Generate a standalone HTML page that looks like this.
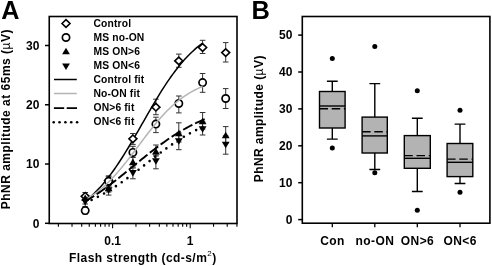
<!DOCTYPE html>
<html><head><meta charset="utf-8"><style>
html,body{margin:0;padding:0;background:#fff;width:492px;height:266px;overflow:hidden}
svg{filter:grayscale(1)}
</style></head><body>
<svg width="492" height="266" viewBox="0 0 492 266" style="display:block;font-family:'Liberation Sans', sans-serif;font-weight:bold">
<rect width="492" height="266" fill="#fff"/>
<text transform="translate(1.3,18.6) scale(1.05,1.06)" font-size="24">A</text>
<text transform="translate(251.5,18.6) scale(1.06,1.06)" font-size="24">B</text>
<rect x="49.25" y="16.5" width="187.75" height="207.0" fill="none" stroke="#000" stroke-width="1.6"/>
<line x1="45" x2="49.25" y1="223.30" y2="223.30" stroke="#000" stroke-width="1.5"/>
<text x="39.4" y="227.70" font-size="12" text-anchor="end">0</text>
<line x1="45" x2="49.25" y1="164.03" y2="164.03" stroke="#000" stroke-width="1.5"/>
<text x="39.4" y="168.43" font-size="12" text-anchor="end">10</text>
<line x1="45" x2="49.25" y1="104.76" y2="104.76" stroke="#000" stroke-width="1.5"/>
<text x="39.4" y="109.16" font-size="12" text-anchor="end">20</text>
<line x1="45" x2="49.25" y1="45.49" y2="45.49" stroke="#000" stroke-width="1.5"/>
<text x="39.4" y="49.89" font-size="12" text-anchor="end">30</text>
<line x1="58.36" x2="58.36" y1="223.5" y2="226.7" stroke="#000" stroke-width="1.1"/>
<line x1="72.02" x2="72.02" y1="223.5" y2="226.7" stroke="#000" stroke-width="1.1"/>
<line x1="81.72" x2="81.72" y1="223.5" y2="226.7" stroke="#000" stroke-width="1.1"/>
<line x1="89.24" x2="89.24" y1="223.5" y2="226.7" stroke="#000" stroke-width="1.1"/>
<line x1="95.38" x2="95.38" y1="223.5" y2="226.7" stroke="#000" stroke-width="1.1"/>
<line x1="100.58" x2="100.58" y1="223.5" y2="226.7" stroke="#000" stroke-width="1.1"/>
<line x1="105.08" x2="105.08" y1="223.5" y2="226.7" stroke="#000" stroke-width="1.1"/>
<line x1="109.05" x2="109.05" y1="223.5" y2="226.7" stroke="#000" stroke-width="1.1"/>
<line x1="112.60" x2="112.60" y1="223.5" y2="228.3" stroke="#000" stroke-width="1.1"/>
<line x1="135.96" x2="135.96" y1="223.5" y2="226.7" stroke="#000" stroke-width="1.1"/>
<line x1="149.62" x2="149.62" y1="223.5" y2="226.7" stroke="#000" stroke-width="1.1"/>
<line x1="159.32" x2="159.32" y1="223.5" y2="226.7" stroke="#000" stroke-width="1.1"/>
<line x1="166.84" x2="166.84" y1="223.5" y2="226.7" stroke="#000" stroke-width="1.1"/>
<line x1="172.98" x2="172.98" y1="223.5" y2="226.7" stroke="#000" stroke-width="1.1"/>
<line x1="178.18" x2="178.18" y1="223.5" y2="226.7" stroke="#000" stroke-width="1.1"/>
<line x1="182.68" x2="182.68" y1="223.5" y2="226.7" stroke="#000" stroke-width="1.1"/>
<line x1="186.65" x2="186.65" y1="223.5" y2="226.7" stroke="#000" stroke-width="1.1"/>
<line x1="190.20" x2="190.20" y1="223.5" y2="228.3" stroke="#000" stroke-width="1.1"/>
<line x1="213.56" x2="213.56" y1="223.5" y2="226.7" stroke="#000" stroke-width="1.1"/>
<line x1="227.22" x2="227.22" y1="223.5" y2="226.7" stroke="#000" stroke-width="1.1"/>
<line x1="236.92" x2="236.92" y1="223.5" y2="226.7" stroke="#000" stroke-width="1.1"/>
<text x="112.60" y="245" font-size="12" text-anchor="middle">0.1</text>
<text x="190.20" y="245" font-size="12" text-anchor="middle">1</text>
<text x="69.1" y="262.3" font-size="12" letter-spacing="0.43">Flash strength (cd-s/m<tspan font-size="8" font-weight="normal" dy="-6.5">2</tspan><tspan dy="6.5">)</tspan></text>
<text transform="translate(10.4,209.3) rotate(-90)" x="0" y="0" font-size="12" textLength="179.8" lengthAdjust="spacing">PhNR amplitude at 65ms (<tspan font-weight="normal">µ</tspan>V)</text>
<text transform="translate(93.5,27.20) scale(1,1)" font-size="10.3" letter-spacing="0.15">Control</text>
<text transform="translate(93.5,41.20) scale(1,1)" font-size="10.3" letter-spacing="0.15">MS no-ON</text>
<text transform="translate(93.5,55.20) scale(1,1)" font-size="10.3" letter-spacing="0.15">MS ON&gt;6</text>
<text transform="translate(93.5,69.20) scale(1,1)" font-size="10.3" letter-spacing="0.15">MS ON&lt;6</text>
<text transform="translate(93.5,83.20) scale(1,1)" font-size="10.3" letter-spacing="0.15">Control fit</text>
<text transform="translate(93.5,97.20) scale(1,1)" font-size="10.3" letter-spacing="0.15">No-ON fit</text>
<text transform="translate(93.5,111.20) scale(1,1)" font-size="10.3" letter-spacing="0.15">ON&gt;6 fit</text>
<text transform="translate(93.5,125.20) scale(1,1)" font-size="10.3" letter-spacing="0.15">ON&lt;6 fit</text>
<path d="M62.00,23.50 L66.00,19.70 L70.00,23.50 L66.00,27.30 Z" fill="#fff" stroke="#000" stroke-width="1.6"/>
<circle cx="66.00" cy="37.50" r="3.65" fill="#fff" stroke="#000" stroke-width="1.7"/>
<path d="M62.10,54.30 L69.90,54.30 L66.00,47.70 Z" fill="#000"/>
<path d="M62.10,63.50 L69.90,63.50 L66.00,70.10 Z" fill="#000"/>
<line x1="54.0" x2="76.8" y1="79.50" y2="79.50" stroke="#000" stroke-width="1.5"/>
<line x1="54.0" x2="76.8" y1="93.50" y2="93.50" stroke="#b4b4b4" stroke-width="1.5"/>
<line x1="53.9" x2="77" y1="108.1" y2="108.1" stroke="#000" stroke-width="1.9" stroke-dasharray="10.3,2.5"/>
<circle cx="53.70" cy="122.3" r="1.3" fill="#000"/>
<circle cx="59.55" cy="122.3" r="1.3" fill="#000"/>
<circle cx="65.40" cy="122.3" r="1.3" fill="#000"/>
<circle cx="71.25" cy="122.3" r="1.3" fill="#000"/>
<circle cx="77.10" cy="122.3" r="1.3" fill="#000"/>
<path d="M85.20,192.50 V200.00 M82.40,192.50 H88.00 M82.40,200.00 H88.00" fill="none" stroke="#333" stroke-width="1"/>
<path d="M108.60,176.00 V185.00 M105.80,176.00 H111.40 M105.80,185.00 H111.40" fill="none" stroke="#333" stroke-width="1"/>
<path d="M132.90,133.50 V144.40 M130.10,133.50 H135.70 M130.10,144.40 H135.70" fill="none" stroke="#333" stroke-width="1"/>
<path d="M155.90,99.20 V114.70 M153.10,99.20 H158.70 M153.10,114.70 H158.70" fill="none" stroke="#333" stroke-width="1"/>
<path d="M178.80,54.10 V67.30 M176.00,54.10 H181.60 M176.00,67.30 H181.60" fill="none" stroke="#333" stroke-width="1"/>
<path d="M202.60,40.30 V53.50 M199.80,40.30 H205.40 M199.80,53.50 H205.40" fill="none" stroke="#333" stroke-width="1"/>
<path d="M225.70,42.60 V62.00 M222.90,42.60 H228.50 M222.90,62.00 H228.50" fill="none" stroke="#333" stroke-width="1"/>
<path d="M85.20,207.00 V214.00 M82.40,207.00 H88.00 M82.40,214.00 H88.00" fill="none" stroke="#333" stroke-width="1"/>
<path d="M108.60,176.20 V186.00 M105.80,176.20 H111.40 M105.80,186.00 H111.40" fill="none" stroke="#333" stroke-width="1"/>
<path d="M132.90,146.30 V157.50 M130.10,146.30 H135.70 M130.10,157.50 H135.70" fill="none" stroke="#333" stroke-width="1"/>
<path d="M155.90,117.20 V132.60 M153.10,117.20 H158.70 M153.10,132.60 H158.70" fill="none" stroke="#333" stroke-width="1"/>
<path d="M178.80,96.00 V112.90 M176.00,96.00 H181.60 M176.00,112.90 H181.60" fill="none" stroke="#333" stroke-width="1"/>
<path d="M202.60,73.50 V92.30 M199.80,73.50 H205.40 M199.80,92.30 H205.40" fill="none" stroke="#333" stroke-width="1"/>
<path d="M225.70,88.60 V108.50 M222.90,88.60 H228.50 M222.90,108.50 H228.50" fill="none" stroke="#333" stroke-width="1"/>
<path d="M85.20,197.00 V204.00 M82.40,197.00 H88.00 M82.40,204.00 H88.00" fill="none" stroke="#333" stroke-width="1"/>
<path d="M108.60,184.00 V192.00 M105.80,184.00 H111.40 M105.80,192.00 H111.40" fill="none" stroke="#333" stroke-width="1"/>
<path d="M132.90,156.00 V167.00 M130.10,156.00 H135.70 M130.10,167.00 H135.70" fill="none" stroke="#333" stroke-width="1"/>
<path d="M155.90,145.00 V156.00 M153.10,145.00 H158.70 M153.10,156.00 H158.70" fill="none" stroke="#333" stroke-width="1"/>
<path d="M178.80,122.80 V142.00 M176.00,122.80 H181.60 M176.00,142.00 H181.60" fill="none" stroke="#333" stroke-width="1"/>
<path d="M202.60,112.50 V129.00 M199.80,112.50 H205.40 M199.80,129.00 H205.40" fill="none" stroke="#333" stroke-width="1"/>
<path d="M225.70,126.60 V143.00 M222.90,126.60 H228.50 M222.90,143.00 H228.50" fill="none" stroke="#333" stroke-width="1"/>
<path d="M85.20,199.00 V207.00 M82.40,199.00 H88.00 M82.40,207.00 H88.00" fill="none" stroke="#333" stroke-width="1"/>
<path d="M108.60,186.00 V195.10 M105.80,186.00 H111.40 M105.80,195.10 H111.40" fill="none" stroke="#333" stroke-width="1"/>
<path d="M132.90,168.00 V178.80 M130.10,168.00 H135.70 M130.10,178.80 H135.70" fill="none" stroke="#333" stroke-width="1"/>
<path d="M155.90,155.00 V168.80 M153.10,155.00 H158.70 M153.10,168.80 H158.70" fill="none" stroke="#333" stroke-width="1"/>
<path d="M178.80,133.00 V149.70 M176.00,133.00 H181.60 M176.00,149.70 H181.60" fill="none" stroke="#333" stroke-width="1"/>
<path d="M202.60,122.00 V135.00 M199.80,122.00 H205.40 M199.80,135.00 H205.40" fill="none" stroke="#333" stroke-width="1"/>
<path d="M225.70,136.00 V154.20 M222.90,136.00 H228.50 M222.90,154.20 H228.50" fill="none" stroke="#333" stroke-width="1"/>
<path d="M85.20,201.28 L87.16,199.70 L89.11,198.04 L91.07,196.31 L93.03,194.50 L94.98,192.60 L96.94,190.62 L98.90,188.55 L100.85,186.40 L102.81,184.17 L104.77,181.85 L106.72,179.44 L108.68,176.95 L110.64,174.37 L112.59,171.71 L114.55,168.97 L116.51,166.14 L118.46,163.25 L120.42,160.28 L122.38,157.24 L124.33,154.14 L126.29,150.97 L128.25,147.75 L130.20,144.49 L132.16,141.18 L134.12,137.83 L136.07,134.45 L138.03,131.05 L139.99,127.63 L141.94,124.20 L143.90,120.77 L145.86,117.34 L147.81,113.93 L149.77,110.54 L151.73,107.17 L153.68,103.84 L155.64,100.55 L157.60,97.30 L159.55,94.11 L161.51,90.97 L163.47,87.89 L165.42,84.88 L167.38,81.94 L169.34,79.08 L171.29,76.29 L173.25,73.59 L175.21,70.96 L177.16,68.42 L179.12,65.97 L181.08,63.60 L183.03,61.31 L184.99,59.11 L186.95,57.00 L188.90,54.97 L190.86,53.03 L192.82,51.17 L194.77,49.39 L196.73,47.69 L198.69,46.07 L200.64,44.52 L202.60,43.05" fill="none" stroke="#000" stroke-width="1.5"/>
<path d="M81.20,196.30 L85.20,192.50 L89.20,196.30 L85.20,200.10 Z" fill="#fff" stroke="#000" stroke-width="1.6"/>
<path d="M104.60,180.50 L108.60,176.70 L112.60,180.50 L108.60,184.30 Z" fill="#fff" stroke="#000" stroke-width="1.6"/>
<path d="M128.90,138.80 L132.90,135.00 L136.90,138.80 L132.90,142.60 Z" fill="#fff" stroke="#000" stroke-width="1.6"/>
<path d="M151.90,107.20 L155.90,103.40 L159.90,107.20 L155.90,111.00 Z" fill="#fff" stroke="#000" stroke-width="1.6"/>
<path d="M174.80,60.90 L178.80,57.10 L182.80,60.90 L178.80,64.70 Z" fill="#fff" stroke="#000" stroke-width="1.6"/>
<path d="M198.60,47.50 L202.60,43.70 L206.60,47.50 L202.60,51.30 Z" fill="#fff" stroke="#000" stroke-width="1.6"/>
<path d="M221.70,52.60 L225.70,48.80 L229.70,52.60 L225.70,56.40 Z" fill="#fff" stroke="#000" stroke-width="1.6"/>
<circle cx="85.20" cy="210.60" r="3.65" fill="#fff" stroke="#000" stroke-width="1.7"/>
<circle cx="108.60" cy="181.20" r="3.65" fill="#fff" stroke="#000" stroke-width="1.7"/>
<circle cx="132.90" cy="152.40" r="3.65" fill="#fff" stroke="#000" stroke-width="1.7"/>
<circle cx="155.90" cy="124.10" r="3.65" fill="#fff" stroke="#000" stroke-width="1.7"/>
<circle cx="178.80" cy="103.50" r="3.65" fill="#fff" stroke="#000" stroke-width="1.7"/>
<circle cx="202.60" cy="82.60" r="3.65" fill="#fff" stroke="#000" stroke-width="1.7"/>
<circle cx="225.70" cy="98.50" r="3.65" fill="#fff" stroke="#000" stroke-width="1.7"/>
<path d="M85.20,199.76 L87.16,198.65 L89.11,197.47 L91.07,196.23 L93.03,194.93 L94.98,193.55 L96.94,192.11 L98.90,190.59 L100.85,189.00 L102.81,187.33 L104.77,185.59 L106.72,183.77 L108.68,181.89 L110.64,179.92 L112.59,177.89 L114.55,175.79 L116.51,173.62 L118.46,171.38 L120.42,169.08 L122.38,166.73 L124.33,164.32 L126.29,161.87 L128.25,159.37 L130.20,156.83 L132.16,154.27 L134.12,151.68 L136.07,149.08 L138.03,146.47 L139.99,143.85 L141.94,141.24 L143.90,138.64 L145.86,136.06 L147.81,133.51 L149.77,130.99 L151.73,128.50 L153.68,126.06 L155.64,123.67 L157.60,121.34 L159.55,119.06 L161.51,116.84 L163.47,114.69 L165.42,112.61 L167.38,110.60 L169.34,108.66 L171.29,106.80 L173.25,105.01 L175.21,103.29 L177.16,101.65 L179.12,100.08 L181.08,98.59 L183.03,97.16 L184.99,95.81 L186.95,94.53 L188.90,93.31 L190.86,92.16 L192.82,91.07 L194.77,90.04 L196.73,89.07 L198.69,88.15 L200.64,87.29 L202.60,86.48" fill="none" stroke="#b4b4b4" stroke-width="1.5"/>
<path d="M85.20,201.43 L87.23,200.23 L89.26,199.00 L91.28,197.74 L93.31,196.44 L95.34,195.12 L97.37,193.77 L99.40,192.39 L101.43,190.98 L103.45,189.54 L105.48,188.07 L107.51,186.59 L109.54,185.07 L111.57,183.54 L113.60,181.99 L115.62,180.41 L117.65,178.82 L119.68,177.21 L121.71,175.59 L123.74,173.96 L125.77,172.32 L127.80,170.67 L129.82,169.01 L131.85,167.35 L133.88,165.69 L135.91,164.03 L137.94,162.37 L139.97,160.71 L141.99,159.06 L144.02,157.42 L146.05,155.79 L148.08,154.18 L150.11,152.58 L152.13,150.99 L154.16,149.42 L156.19,147.88 L158.22,146.35 L160.25,144.85 L162.28,143.37 L164.31,141.91 L166.33,140.48 L168.36,139.08 L170.39,137.71 L172.42,136.37 L174.45,135.06 L176.48,133.77 L178.50,132.52 L180.53,131.30 L182.56,130.12 L184.59,128.96 L186.62,127.84 L188.64,126.75 L190.67,125.69 L192.70,124.66 L194.73,123.67 L196.76,122.70 L198.79,121.77 L200.81,120.87 L202.84,120.00 L204.87,119.16 L206.90,118.35" fill="none" stroke="#000" stroke-width="1.9" stroke-dasharray="10.5,3"/>
<path d="M85.20,202.79 L87.16,201.96 L89.11,201.10 L91.07,200.21 L93.03,199.29 L94.98,198.33 L96.94,197.35 L98.90,196.33 L100.85,195.28 L102.81,194.20 L104.77,193.09 L106.72,191.95 L108.68,190.77 L110.64,189.57 L112.59,188.33 L114.55,187.07 L116.51,185.78 L118.46,184.46 L120.42,183.11 L122.38,181.75 L124.33,180.35 L126.29,178.94 L128.25,177.51 L130.20,176.05 L132.16,174.59 L134.12,173.10 L136.07,171.61 L138.03,170.10 L139.99,168.58 L141.94,167.06 L143.90,165.53 L145.86,164.01 L147.81,162.48 L149.77,160.95 L151.73,159.43 L153.68,157.92 L155.64,156.41 L157.60,154.92 L159.55,153.44 L161.51,151.97 L163.47,150.53 L165.42,149.10 L167.38,147.69 L169.34,146.30 L171.29,144.94 L173.25,143.60 L175.21,142.29 L177.16,141.00 L179.12,139.75 L181.08,138.52 L183.03,137.32 L184.99,136.15 L186.95,135.02 L188.90,133.91 L190.86,132.84 L192.82,131.80 L194.77,130.79 L196.73,129.81 L198.69,128.86 L200.64,127.95 L202.60,127.07" fill="none" stroke="#000" stroke-width="2.6" stroke-linecap="round" stroke-dasharray="0,7"/>
<path d="M81.30,201.10 L89.10,201.10 L85.20,194.50 Z" fill="#000"/>
<path d="M104.70,191.30 L112.50,191.30 L108.60,184.70 Z" fill="#000"/>
<path d="M129.00,165.20 L136.80,165.20 L132.90,158.60 Z" fill="#000"/>
<path d="M152.00,154.50 L159.80,154.50 L155.90,147.90 Z" fill="#000"/>
<path d="M174.90,136.30 L182.70,136.30 L178.80,129.70 Z" fill="#000"/>
<path d="M198.70,124.30 L206.50,124.30 L202.60,117.70 Z" fill="#000"/>
<path d="M221.80,138.30 L229.60,138.30 L225.70,131.70 Z" fill="#000"/>
<path d="M81.30,199.00 L89.10,199.00 L85.20,205.60 Z" fill="#000"/>
<path d="M104.70,187.20 L112.50,187.20 L108.60,193.80 Z" fill="#000"/>
<path d="M129.00,169.90 L136.80,169.90 L132.90,176.50 Z" fill="#000"/>
<path d="M152.00,158.20 L159.80,158.20 L155.90,164.80 Z" fill="#000"/>
<path d="M174.90,138.20 L182.70,138.20 L178.80,144.80 Z" fill="#000"/>
<path d="M198.70,126.20 L206.50,126.20 L202.60,132.80 Z" fill="#000"/>
<path d="M221.80,141.70 L229.60,141.70 L225.70,148.30 Z" fill="#000"/>
<rect x="302.3" y="16.5" width="187.59999999999997" height="206.7" fill="none" stroke="#000" stroke-width="1.6"/>
<line x1="298.2" x2="302.3" y1="219.60" y2="219.60" stroke="#000" stroke-width="1.5"/>
<text x="292.4" y="223.90" font-size="12" text-anchor="end">0</text>
<line x1="298.2" x2="302.3" y1="182.70" y2="182.70" stroke="#000" stroke-width="1.5"/>
<text x="292.4" y="187.00" font-size="12" text-anchor="end">10</text>
<line x1="298.2" x2="302.3" y1="145.80" y2="145.80" stroke="#000" stroke-width="1.5"/>
<text x="292.4" y="150.10" font-size="12" text-anchor="end">20</text>
<line x1="298.2" x2="302.3" y1="108.90" y2="108.90" stroke="#000" stroke-width="1.5"/>
<text x="292.4" y="113.20" font-size="12" text-anchor="end">30</text>
<line x1="298.2" x2="302.3" y1="72.00" y2="72.00" stroke="#000" stroke-width="1.5"/>
<text x="292.4" y="76.30" font-size="12" text-anchor="end">40</text>
<line x1="298.2" x2="302.3" y1="35.10" y2="35.10" stroke="#000" stroke-width="1.5"/>
<text x="292.4" y="39.40" font-size="12" text-anchor="end">50</text>
<text transform="translate(263.2,182.3) rotate(-90)" x="0" y="0" font-size="12" textLength="126.7" lengthAdjust="spacing">PhNR amplitude (<tspan font-weight="normal">µ</tspan>V)</text>
<line x1="332.3" x2="332.3" y1="223.2" y2="227.2" stroke="#000" stroke-width="1.3"/>
<text x="332.51" y="244.8" font-size="12" text-anchor="middle" letter-spacing="0.43">Con</text>
<path d="M332.3,81.3 V91.5 M332.3,128.0 V139.1 M326.90,81.3 H337.70 M326.90,139.1 H337.70" stroke="#000" stroke-width="1.4" fill="none"/>
<rect x="319.5" y="91.5" width="25.60" height="36.50" fill="#b3b3b3" stroke="#000" stroke-width="1.4"/>
<line x1="319.5" x2="345.1" y1="106.0" y2="106.0" stroke="#000" stroke-width="1.4"/>
<line x1="319.5" x2="345.1" y1="108.8" y2="108.8" stroke="#000" stroke-width="1.4" stroke-dasharray="8.5,3.7"/>
<circle cx="332.3" cy="58.6" r="2.5" fill="#000"/>
<circle cx="332.3" cy="148.1" r="2.5" fill="#000"/>
<line x1="374.8" x2="374.8" y1="223.2" y2="227.2" stroke="#000" stroke-width="1.3"/>
<text x="375.01" y="244.8" font-size="12" text-anchor="middle" letter-spacing="0.43">no-ON</text>
<path d="M374.8,83.6 V117.1 M374.8,153.0 V169.5 M369.40,83.6 H380.20 M369.40,169.5 H380.20" stroke="#000" stroke-width="1.4" fill="none"/>
<rect x="362.1" y="117.1" width="25.20" height="35.90" fill="#b3b3b3" stroke="#000" stroke-width="1.4"/>
<line x1="362.1" x2="387.3" y1="135.9" y2="135.9" stroke="#000" stroke-width="1.4"/>
<line x1="362.1" x2="387.3" y1="131.8" y2="131.8" stroke="#000" stroke-width="1.4" stroke-dasharray="8.5,3.7"/>
<circle cx="374.8" cy="46.6" r="2.5" fill="#000"/>
<circle cx="374.8" cy="172.8" r="2.5" fill="#000"/>
<line x1="417.3" x2="417.3" y1="223.2" y2="227.2" stroke="#000" stroke-width="1.3"/>
<text x="417.51" y="244.8" font-size="12" text-anchor="middle" letter-spacing="0.43">ON&gt;6</text>
<path d="M417.3,118.2 V135.6 M417.3,168.3 V191.5 M411.90,118.2 H422.70 M411.90,191.5 H422.70" stroke="#000" stroke-width="1.4" fill="none"/>
<rect x="404.3" y="135.6" width="26.00" height="32.70" fill="#b3b3b3" stroke="#000" stroke-width="1.4"/>
<line x1="404.3" x2="430.3" y1="158.3" y2="158.3" stroke="#000" stroke-width="1.4"/>
<line x1="404.3" x2="430.3" y1="155.6" y2="155.6" stroke="#000" stroke-width="1.4" stroke-dasharray="8.5,3.7"/>
<circle cx="417.3" cy="90.8" r="2.5" fill="#000"/>
<circle cx="417.3" cy="210.3" r="2.5" fill="#000"/>
<line x1="460.0" x2="460.0" y1="223.2" y2="227.2" stroke="#000" stroke-width="1.3"/>
<text x="460.21" y="244.8" font-size="12" text-anchor="middle" letter-spacing="0.43">ON&lt;6</text>
<path d="M460.0,124.1 V143.5 M460.0,176.6 V183.5 M454.60,124.1 H465.40 M454.60,183.5 H465.40" stroke="#000" stroke-width="1.4" fill="none"/>
<rect x="447.1" y="143.5" width="25.70" height="33.10" fill="#b3b3b3" stroke="#000" stroke-width="1.4"/>
<line x1="447.1" x2="472.8" y1="162.3" y2="162.3" stroke="#000" stroke-width="1.4"/>
<line x1="447.1" x2="472.8" y1="159.1" y2="159.1" stroke="#000" stroke-width="1.4" stroke-dasharray="8.5,3.7"/>
<circle cx="460.0" cy="110.2" r="2.5" fill="#000"/>
<circle cx="460.0" cy="192.3" r="2.5" fill="#000"/>
</svg>
</body></html>
